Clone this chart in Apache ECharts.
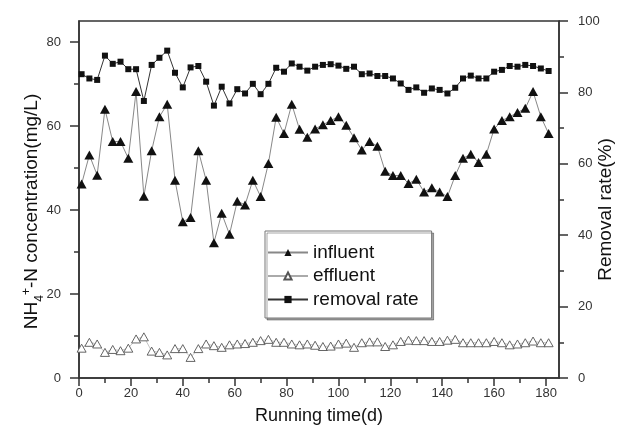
<!DOCTYPE html>
<html><head><meta charset="utf-8">
<script src="https://cdn.jsdelivr.net/npm/echarts@6/dist/echarts.min.js"></script>
<style>html,body{margin:0;padding:0;background:#fff}#c{width:617px;height:436px}</style>
</head><body><div id="c"></div>
<script>
// Running time (d)
const days = [1,4,7,10,13,16,19,22,25,28,31,34,37,40,43,46,49,52,55,58,61,64,67,70,73,76,79,82,85,88,91,94,97,100,103,106,109,112,115,118,121,124,127,130,133,136,139,142,145,148,151,154,157,160,163,166,169,172,175,178,181];
// NH4+-N influent (mg/L)
const influent = [46.2,53.1,48.3,64,56.3,56.3,52.3,68.2,43.3,54.1,62.2,65.2,47.1,37.2,38.2,54.1,47.1,32.2,39.2,34.2,42.1,41.2,47.1,43.2,51.1,62.1,58.2,65.2,59.2,57.3,59.3,60.3,61.3,62.2,60.2,57.2,54.3,56.3,55.2,49.2,48.2,48.2,46.3,47.3,44.3,45.3,44.3,43.2,48.2,52.3,53.3,51.3,53.3,59.3,61.3,62.2,63.2,64.2,68.2,62.2,58.2];
// NH4+-N effluent (mg/L)
const effluent = [7.1,8.5,8.1,6.1,6.8,6.5,7.1,9.3,9.8,6.4,6.1,5.5,7.0,7.0,4.9,7.0,8.1,7.7,7.3,7.9,8.1,8.2,8.5,8.9,9.2,8.5,8.5,8.1,7.9,8.1,7.8,7.5,7.6,8.1,8.3,7.3,8.4,8.6,8.6,7.5,7.9,8.7,9.0,8.9,8.9,8.7,8.7,9.0,9.2,8.4,8.4,8.4,8.4,8.7,8.4,7.9,8.1,8.4,8.8,8.4,8.4];
// Removal rate (%)
const removal = [85.1,83.9,83.5,90.3,88.0,88.6,86.5,86.5,77.6,87.7,89.7,91.7,85.5,81.4,87.0,87.4,83.0,76.3,81.6,76.9,80.9,79.7,82.4,79.5,82.4,86.9,85.8,88.1,87.2,86.1,87.2,87.7,87.9,87.5,86.6,87.2,85.1,85.3,84.6,84.6,83.9,82.5,80.7,81.4,79.9,81.1,80.7,79.7,81.3,83.9,84.7,83.9,83.9,85.8,86.3,87.4,87.2,87.7,87.4,86.7,86.0];
// Tick values
const xMajorTicks = [0,20,40,60,80,100,120,140,160,180];
const xMinorTicks = [10,30,50,70,90,110,130,150,170];
const yLeftMajorTicks = [0,20,40,60,80];
const yLeftMinorTicks = [10,30,50,70];

const FONT = '"Liberation Sans", Arial, sans-serif';
const axisLine = {color:'#333', width:1.5};
const pairs = (ys) => days.map((d,i)=>[d, ys[i]]);

const chart = echarts.init(document.getElementById('c'));
chart.setOption({
  animation:false,
  backgroundColor:'#fff',
  textStyle:{fontFamily:FONT},
  grid:{left:79,right:58,top:21,bottom:58,show:true,borderColor:'#333',borderWidth:1.5,backgroundColor:'transparent',
        containLabel:false, outerBoundsMode:'none'},
  legend:{
    orient:'vertical', left:265, top:231,
    itemWidth:40, itemHeight:9, itemGap:4.5,
    padding:[12,13,9,2],
    borderColor:'#777', borderWidth:1, backgroundColor:'#fff',
    shadowColor:'rgba(0,0,0,0.35)', shadowOffsetX:2, shadowOffsetY:2, shadowBlur:0,
    textStyle:{fontSize:19, color:'#111', fontFamily:FONT, lineHeight:18},
    data:['influent','effluent','removal rate']
  },
  xAxis:[
    {type:'value', min:0, max:185, position:'bottom',
     axisLine:{show:true, onZero:false, lineStyle:axisLine},
     axisTick:{show:true, length:8, customValues:xMajorTicks, lineStyle:axisLine},
     axisLabel:{customValues:xMajorTicks, fontSize:13, color:'#333', margin:9, fontFamily:FONT},
     splitLine:{show:false},
     name:'Running time(d)', nameLocation:'middle', nameGap:29, nameMoveOverlap:false,
     nameTextStyle:{fontSize:18, color:'#111', fontFamily:FONT}},
    {type:'value', min:0, max:185, position:'bottom',
     axisLine:{show:false, onZero:false},
     axisTick:{show:true, length:5, customValues:xMinorTicks, lineStyle:axisLine},
     axisLabel:{show:false}, splitLine:{show:false}}
  ],
  yAxis:[
    {type:'value', min:0, max:85, position:'left',
     axisLine:{show:true, onZero:false, lineStyle:axisLine},
     axisTick:{show:true, length:9, customValues:yLeftMajorTicks, lineStyle:axisLine},
     axisLabel:{customValues:yLeftMajorTicks, fontSize:13, color:'#333', margin:18, fontFamily:FONT},
     splitLine:{show:false},
     name:'{a|NH}{s|4}{p|+}{a|-N concentration(mg/L)}', nameLocation:'middle', nameGap:36, nameMoveOverlap:false,
     nameTextStyle:{fontSize:19, color:'#111', fontFamily:FONT, padding:[0,24,0,0],
       rich:{a:{fontSize:19, color:'#111', fontFamily:FONT, lineHeight:22},
             s:{fontSize:12, color:'#111', fontFamily:FONT, verticalAlign:'bottom', lineHeight:22, padding:[0,0,-3,0]},
             p:{fontSize:12, color:'#111', fontFamily:FONT, verticalAlign:'top', lineHeight:22}}}},
    {type:'value', min:0, max:85, position:'left',
     axisLine:{show:false, onZero:false},
     axisTick:{show:true, length:5, customValues:yLeftMinorTicks, lineStyle:axisLine},
     axisLabel:{show:false}, splitLine:{show:false}},
    {type:'value', min:0, max:100, interval:20, position:'right',
     axisLine:{show:true, onZero:false, lineStyle:axisLine},
     axisTick:{show:true, length:9, lineStyle:axisLine},
     minorTick:{show:true, splitNumber:2, length:5, lineStyle:axisLine},
     axisLabel:{fontSize:13, color:'#333', margin:19, fontFamily:FONT},
     splitLine:{show:false},
     name:'Removal rate(%)', nameLocation:'middle', nameGap:37, nameMoveOverlap:false,
     nameTextStyle:{fontSize:19, color:'#111', fontFamily:FONT, padding:[0,20,0,0]}}
  ],
  series:[
    {name:'influent', type:'line', xAxisIndex:0, yAxisIndex:0, data:pairs(influent),
     symbol:'triangle', symbolSize:[10,9], showAllSymbol:true,
     itemStyle:{color:'#111'}, lineStyle:{color:'#888', width:1}},
    {name:'effluent', type:'line', xAxisIndex:0, yAxisIndex:0, data:pairs(effluent),
     symbol:'triangle', symbolSize:[9,8], showAllSymbol:true,
     itemStyle:{color:'#fff', borderColor:'#555', borderWidth:0.9}, lineStyle:{color:'#aaa', width:0.7}},
    {name:'removal rate', type:'line', xAxisIndex:0, yAxisIndex:2, data:pairs(removal),
     symbol:'rect', symbolSize:6, showAllSymbol:true,
     itemStyle:{color:'#111'}, lineStyle:{color:'#333', width:1}}
  ]
});
</script>
</body></html>
